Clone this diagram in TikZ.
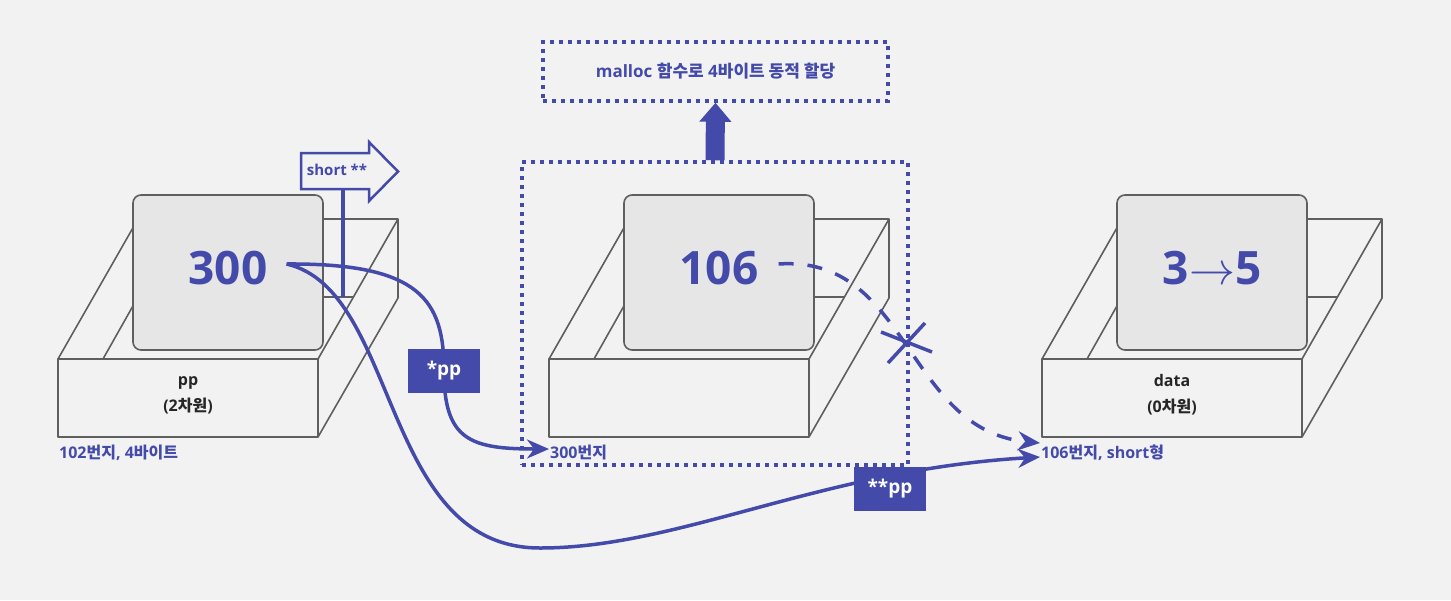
\RequirePackage{fix-cm}
\documentclass[tikz,border=0pt]{standalone}
\usepackage{fontspec}
\setmainfont{Open Sans}
\newfontfamily\hangul{Noto Sans CJK KR}
\usetikzlibrary{arrows.meta}

\definecolor{ink}{HTML}{434AAA}
\definecolor{edge}{HTML}{5F5F5F}
\definecolor{paper}{HTML}{F2F2F2}
\definecolor{slot}{HTML}{E6E6E6}

\tikzset{
  boxline/.style={draw=edge, line width=1.6pt, line join=round},
  valbox/.style={boxline, fill=slot, rounded corners=8pt},
  num/.style={text=ink, inner sep=2pt, font=\fontsize{46}{50}\selectfont\bfseries},
  tag/.style={text=black!85, align=center, font=\fontsize{16}{26}\selectfont\bfseries},
  addr/.style={text=ink, anchor=west, inner sep=1pt, font=\fontsize{16}{20}\selectfont\bfseries},
  dotbox/.style={draw=ink, line width=3.5pt, dash pattern=on 4pt off 5pt},
  ptrlbl/.style={fill=ink, text=white, minimum width=72pt, minimum height=44pt, font=\fontsize{19}{22}\selectfont\bfseries},
  ptr/.style={draw=ink, line width=3.5pt, -{Stealth[length=22pt,width=19pt]}},
  gone/.style={ptr, dash pattern=on 15pt off 14pt},
  cut/.style={draw=ink, line width=3.5pt}
}

\begin{document}
\begin{tikzpicture}[x=1pt,y=-1pt]
\fill[paper] (0,0) rectangle (1451,600);
\useasboundingbox (0,0) rectangle (1451,600);

\foreach \bx in {0,491,984}{
  \begin{scope}[shift={(\bx,0)}]
  \draw[boxline] (58,359) -- (138,219) -- (398,219) -- (318,359);
  \draw[boxline] (398,219) -- (398,298) -- (318,437);
  \draw[boxline] (103,359) -- (138,297) -- (353,297);
  \draw[boxline, fill=paper] (58,359) rectangle (318,437);
  \draw[valbox] (133,195) rectangle (323,350);
  \end{scope}
}

\node[num] (n300) at (228,268) {300};
\node[num] (n106) at (719,268) {106};
\node[num] (n35) at (1212,268) {3$\rightarrow$5};

\node[tag] (pp) at (188,395) {pp\\(2{\hangul 차원})};
\node[tag] (data) at (1172,395) {data\\(0{\hangul 차원})};

\node[addr] (a102) at (58,453) {102{\hangul 번지}, 4{\hangul 바이트}};
\node[addr] (a300) at (549,453) {300{\hangul 번지}};
\node[addr] (a106) at (1040,453) {106{\hangul 번지}, short{\hangul 형}};

\node[dotbox, minimum width=386pt, minimum height=303pt] (heap) at (715,313.5) {};
\node[dotbox, minimum width=345pt, minimum height=59pt, text=ink,
  font=\fontsize{17}{20}\selectfont\bfseries] (malloc) at (715.5,71.5)
  {malloc {\hangul 함수로} 4{\hangul 바이트 동적 할당}};
\draw[draw=ink, line width=19pt, -{Triangle[length=19pt,width=31pt]}] (heap.north) -- (malloc.south);

\draw[draw=ink, line width=2.5pt, fill=paper, line join=miter]
  (301,153) -- (369,153) -- (369,142) -- (398,171.5) -- (369,201) -- (369,189) -- (301,189) -- cycle;
\node[text=ink, font=\fontsize{15}{18}\selectfont\bfseries] (ptype) at (337,170) {short **};
\coordinate (pfoot) at (343,297);
\draw[cut] (343,189) -- (pfoot);

\draw[ptr] ([xshift=17pt,yshift=4pt]n300.east) .. controls (420,263) and (444,300) .. (444,371)
  .. controls (444,440) and (470,449) .. ([yshift=4pt]a300.west);
\draw[ptr] ([xshift=17pt,yshift=4pt]n300.east) .. controls (400,290) and (380,548) .. (540,548)
  .. controls (680,548) and (820,470) .. ([yshift=-4pt]a106.west);
\draw[gone] ([xshift=18pt,yshift=4pt]n106.east) .. controls (910,255) and (905,430) .. ([yshift=10pt]a106.west);
\draw[cut] (881,332) -- (932,352);
\draw[cut] (888,363) -- (925,323);

\node[ptrlbl] (p1) at (444,371) {*pp};
\node[ptrlbl] (p2) at (890,489) {**pp};
\end{tikzpicture}
\end{document}
